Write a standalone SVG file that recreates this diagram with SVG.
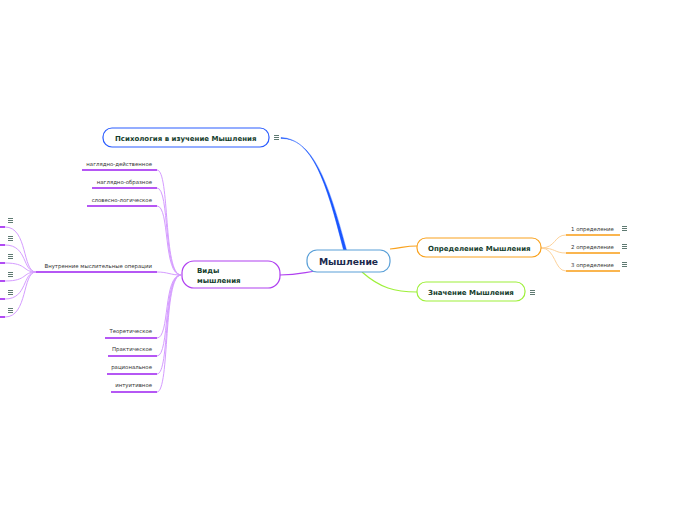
<svg xmlns="http://www.w3.org/2000/svg" width="696" height="520" viewBox="0 0 696 520">
<style>
.node{fill:#fff;stroke-width:1.2}
.t{font-family:"DejaVu Sans",Verdana,sans-serif;font-weight:bold;font-size:7px;fill:#143d2c}
.s{font-family:"DejaVu Sans",Verdana,sans-serif;font-size:5.4px;fill:#333}
.pl{fill:none;stroke:#d59cff;stroke-width:1}
.pu{stroke:#9d1ff0;stroke-width:1.6}
.ol{fill:none;stroke:#fdd29a;stroke-width:1}
.ou{stroke:#f89c14;stroke-width:1.6}
.ic{fill:#4d6b63}
</style>
<defs>
<g id="icon"><rect x="0" y="0" width="5" height="0.9" class="ic"/><rect x="0" y="2" width="5" height="0.9" class="ic"/><rect x="0" y="4" width="5" height="0.9" class="ic"/></g>
</defs>
<rect width="696" height="520" fill="#fff"/>
<g id="connectors">
<path d="M281,137.5 C312,139 326,180 343.5,250 L346.5,250 C328,180 312,138 281,138.5 Z" fill="#1a56ff" stroke="#1a56ff" stroke-width="0.4"/>
<path d="M390,249 C402,248 405,246 417,246" fill="none" stroke="#f9a21e" stroke-width="1.2"/>
<path d="M362,272 C380,288 395,292 417,292" fill="none" stroke="#9ef03a" stroke-width="1.2"/>
<path d="M280,275 C300,275 305,272 318,271" fill="none" stroke="#b040f0" stroke-width="1.2"/>
<path class="ol" d="M541,248 C556,248 554,235 566,235"/>
<path class="ol" d="M541,248 C556,248 554,253 566,253"/>
<path class="ol" d="M541,248 C556,248 554,271 566,271"/>
<path class="pl" d="M157,170 C170,170 163,275 181,275"/>
<path class="pl" d="M157,188 C170,188 163,275 181,275"/>
<path class="pl" d="M157,206 C170,206 163,275 181,275"/>
<path class="pl" d="M157,272 C168,272 170,275 181,275"/>
<path class="pl" d="M157,338 C170,338 163,275 181,275"/>
<path class="pl" d="M157,356 C170,356 163,275 181,275"/>
<path class="pl" d="M157,374 C170,374 163,275 181,275"/>
<path class="pl" d="M157,392 C170,392 163,275 181,275"/>
<path class="pl" d="M5,227 C28,227 22,272 36,272"/>
<path class="pl" d="M5,245 C28,245 22,272 36,272"/>
<path class="pl" d="M5,263 C28,263 22,272 36,272"/>
<path class="pl" d="M5,281 C28,281 22,272 36,272"/>
<path class="pl" d="M5,299 C28,299 22,272 36,272"/>
<path class="pl" d="M5,317 C28,317 22,272 36,272"/>
</g>
<g id="n-center">
<rect class="node" x="307" y="250" width="83" height="22" rx="10" stroke="#5aa0d8"/>
<text x="348.5" y="264.5" text-anchor="middle" font-family="DejaVu Sans,Verdana,sans-serif" font-weight="bold" font-size="9.2" fill="#1b2a4e">Мышление</text>
</g>
<g id="n-psych">
<rect class="node" x="103" y="128" width="166" height="19" rx="9" stroke="#2a5cff"/>
<text class="t" x="115" y="140.5">Психология в изучение Мышления</text>
<use href="#icon" x="274" y="135"/>
</g>
<g id="n-def">
<rect class="node" x="417" y="238" width="124" height="19" rx="9" stroke="#f9a21e"/>
<text class="t" x="428" y="250.5">Определение Мышления</text>
</g>
<g id="n-def1"><line class="ou" x1="566" y1="235" x2="620" y2="235"/><text class="s" x="571" y="231">1 определение</text><use href="#icon" x="622" y="226"/></g>
<g id="n-def2"><line class="ou" x1="566" y1="253" x2="620" y2="253"/><text class="s" x="571" y="249">2 определение</text><use href="#icon" x="622" y="244"/></g>
<g id="n-def3"><line class="ou" x1="566" y1="271" x2="620" y2="271"/><text class="s" x="571" y="267">3 определение</text><use href="#icon" x="622" y="262"/></g>
<g id="n-value">
<rect class="node" x="417" y="282" width="108" height="19" rx="9" stroke="#9ef03a"/>
<text class="t" x="428" y="294.5">Значение Мышления</text>
<use href="#icon" x="530" y="290"/>
</g>
<g id="n-types">
<rect class="node" x="182" y="261" width="98" height="27" rx="12" stroke="#b040f0"/>
<text class="t" x="197" y="273">Виды</text>
<text class="t" x="197" y="283">мышления</text>
</g>
<g id="n-t1"><line class="pu" x1="82" y1="170" x2="157" y2="170"/><text class="s" x="152" y="166" text-anchor="end">наглядно-действенное</text></g>
<g id="n-t2"><line class="pu" x1="92" y1="188" x2="157" y2="188"/><text class="s" x="152" y="184" text-anchor="end">наглядно-образное</text></g>
<g id="n-t3"><line class="pu" x1="87" y1="206" x2="157" y2="206"/><text class="s" x="152" y="202" text-anchor="end">словесно-логическое</text></g>
<g id="n-t4"><line class="pu" x1="36" y1="272" x2="157" y2="272"/><text class="s" x="152" y="268" text-anchor="end">Внутренние мыслительные операции</text></g>
<g id="n-t5"><line class="pu" x1="105" y1="338" x2="157" y2="338"/><text class="s" x="152" y="333" text-anchor="end">Теоретическое</text></g>
<g id="n-t6"><line class="pu" x1="108" y1="356" x2="157" y2="356"/><text class="s" x="152" y="351" text-anchor="end">Практическое</text></g>
<g id="n-t7"><line class="pu" x1="107" y1="374" x2="157" y2="374"/><text class="s" x="152" y="369" text-anchor="end">рациональное</text></g>
<g id="n-t8"><line class="pu" x1="111" y1="392" x2="157" y2="392"/><text class="s" x="152" y="387" text-anchor="end">интуитивное</text></g>
<g id="n-op1"><line class="pu" x1="0" y1="227" x2="5" y2="227"/><use href="#icon" x="8" y="218"/></g>
<g id="n-op2"><line class="pu" x1="0" y1="245" x2="5" y2="245"/><use href="#icon" x="8" y="236"/></g>
<g id="n-op3"><line class="pu" x1="0" y1="263" x2="5" y2="263"/><use href="#icon" x="8" y="254"/></g>
<g id="n-op4"><line class="pu" x1="0" y1="281" x2="5" y2="281"/><use href="#icon" x="8" y="272"/></g>
<g id="n-op5"><line class="pu" x1="0" y1="299" x2="5" y2="299"/><use href="#icon" x="8" y="290"/></g>
<g id="n-op6"><line class="pu" x1="0" y1="317" x2="5" y2="317"/><use href="#icon" x="8" y="308"/></g>
</svg>
